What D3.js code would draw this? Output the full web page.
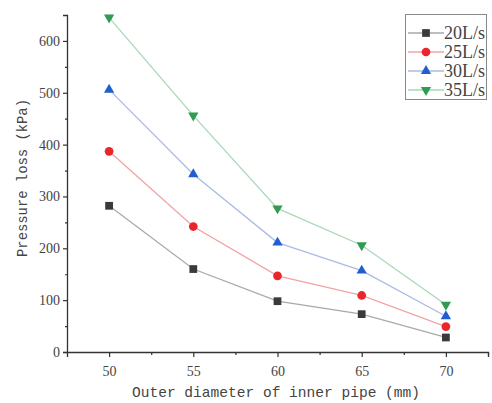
<!DOCTYPE html>
<html>
<head>
<meta charset="utf-8">
<script src="https://cdn.jsdelivr.net/npm/d3@7"></script>
<style>
  body { margin: 0; background: #fff; }
</style>
</head>
<body>
<div id="chart"></div>
<script>
// data
const diameters = [50, 55, 60, 65, 70];
const flow20 = [282, 160, 98, 73, 28];
const flow25 = [387, 242, 147, 109, 49];
const flow30 = [506, 343, 211, 157, 69];
const flow35 = [645, 456, 277, 206, 91];
const seriesNames = ["20L/s", "25L/s", "30L/s", "35L/s"];
const yTicks = [0, 100, 200, 300, 400, 500, 600];

const width = 492;
const height = 403;
const margin = { top: 15, right: 4, bottom: 51, left: 67 };

const series = [
    { name: seriesNames[0], values: flow20, mark: "#3a3a3a", line: "#a9a9a9", shape: d3.symbolSquare, size: 60 },
    { name: seriesNames[1], values: flow25, mark: "#e8262b", line: "#f2a3a6", shape: d3.symbolCircle, size: 60 },
    { name: seriesNames[2], values: flow30, mark: "#1f5fd0", line: "#aabbe6", shape: d3.symbolTriangle, size: 46 },
    { name: seriesNames[3], values: flow35, mark: "#2f9c52", line: "#a9d9b5", shape: d3.symbolTriangle, size: 46, flip: true }
];

const svg = d3.select("#chart")
    .append("svg")
    .attr("width", width)
    .attr("height", height);

const x = d3.scaleLinear()
    .domain([47.5, 72.5])
    .range([margin.left, width - margin.right]);

const y = d3.scaleLinear()
    .domain([0, 650])
    .range([height - margin.bottom, margin.top]);

const serif = "'Liberation Serif', 'DejaVu Serif', serif";

// axes
svg.append("g")
    .attr("transform", `translate(0,${y(0)})`)
    .call(d3.axisBottom(x).tickValues(diameters).tickSize(5).tickPadding(9));

svg.append("g")
    .attr("transform", `translate(0,${y(0)})`)
    .call(d3.axisBottom(x).tickValues([52.5, 57.5, 62.5, 67.5, 72.5]).tickSize(3).tickFormat(""))
    .select(".domain").remove();

svg.append("g")
    .attr("transform", `translate(${margin.left},0)`)
    .call(d3.axisLeft(y).tickValues(yTicks).tickSize(4).tickPadding(3));

svg.append("g")
    .attr("transform", `translate(${margin.left},0)`)
    .call(d3.axisLeft(y).tickValues([50, 150, 250, 350, 450, 550, 650]).tickSize(2).tickFormat(""))
    .select(".domain").remove();

svg.selectAll(".domain").attr("stroke", "#333").attr("stroke-width", 1.3);
svg.selectAll(".tick line").attr("stroke", "#333").attr("stroke-width", 1.2);
svg.selectAll(".tick text")
    .attr("font-family", serif)
    .attr("font-size", 14)
    .attr("fill", "#444");

// axis titles
svg.append("text")
    .attr("x", 276)
    .attr("y", 397)
    .attr("text-anchor", "middle")
    .attr("font-family", "'Liberation Mono', 'DejaVu Sans Mono', monospace")
    .attr("font-size", 15)
    .attr("fill", "#444")
    .attr("textLength", 288)
    .attr("lengthAdjust", "spacingAndGlyphs")
    .text("Outer diameter of inner pipe (mm)");

svg.append("text")
    .attr("transform", "translate(27,178) rotate(-90)")
    .attr("text-anchor", "middle")
    .attr("font-family", "'Liberation Mono', 'DejaVu Sans Mono', monospace")
    .attr("font-size", 15)
    .attr("fill", "#444")
    .attr("textLength", 158)
    .attr("lengthAdjust", "spacingAndGlyphs")
    .text("Pressure loss (kPa)");

// lines and markers
const line = d3.line()
    .x((d, i) => x(diameters[i]))
    .y(d => y(d));

series.forEach(s => {
    svg.append("path")
        .datum(s.values)
        .attr("fill", "none")
        .attr("stroke", s.line)
        .attr("stroke-width", 1.3)
        .attr("d", line);

    svg.selectAll(null)
        .data(s.values)
        .enter()
        .append("path")
        .attr("d", d3.symbol().type(s.shape).size(s.size))
        .attr("transform", (d, i) => `translate(${x(diameters[i])},${y(d)})` + (s.flip ? " rotate(180)" : ""))
        .attr("fill", s.mark);
});

// legend
const legend = svg.append("g");
legend.append("rect")
    .attr("x", 405.5)
    .attr("y", 14.5)
    .attr("width", 81)
    .attr("height", 85)
    .attr("fill", "#fff")
    .attr("stroke", "#888")
    .attr("stroke-width", 1);

series.forEach((s, i) => {
    const ly = 33 + i * 19;
    legend.append("line")
        .attr("x1", 408)
        .attr("x2", 444)
        .attr("y1", ly)
        .attr("y2", ly)
        .attr("stroke", s.line)
        .attr("stroke-width", 1.3);
    legend.append("path")
        .attr("d", d3.symbol().type(s.shape).size(s.size))
        .attr("transform", `translate(426,${ly})` + (s.flip ? " rotate(180)" : ""))
        .attr("fill", s.mark);
    legend.append("text")
        .attr("x", 444)
        .attr("y", ly + 6)
        .attr("font-family", serif)
        .attr("font-size", 18)
        .attr("fill", "#444")
        .attr("textLength", 41)
        .attr("lengthAdjust", "spacingAndGlyphs")
        .text(s.name);
});
</script>
</body>
</html>
